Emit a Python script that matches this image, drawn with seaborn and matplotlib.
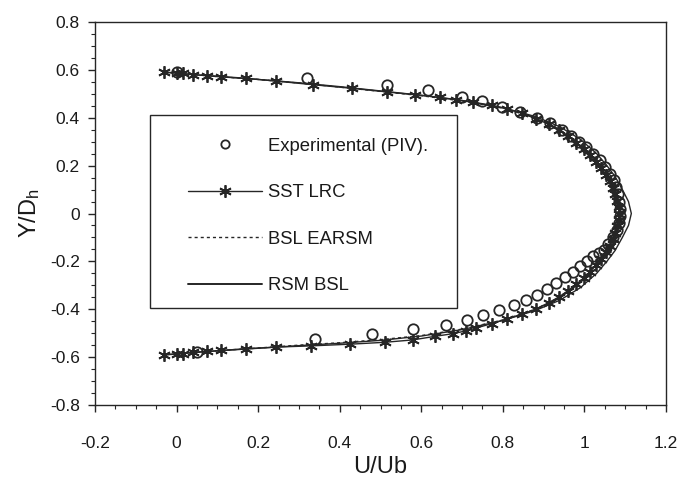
import matplotlib
matplotlib.use("Agg")
import matplotlib.pyplot as plt
import seaborn as sns
import pandas as pd
from matplotlib.ticker import MultipleLocator
from matplotlib.patches import Rectangle
from matplotlib.lines import Line2D

# ---------------- data ----------------
exp_x = [0.0, 0.32, 0.515, 0.616, 0.70, 0.75, 0.797, 0.842, 0.883, 0.915, 0.944,
         0.966, 0.986, 1.005, 1.022, 1.038, 1.05, 1.062, 1.072, 1.078, 1.082,
         1.085, 1.087, 1.087, 1.085, 1.08, 1.07, 1.058, 1.048, 1.036, 1.021,
         1.006, 0.99, 0.972, 0.952, 0.93, 0.908, 0.883, 0.857, 0.827, 0.79,
         0.752, 0.712, 0.66, 0.58, 0.48, 0.34, 0.05]
exp_y = [0.59, 0.565, 0.536, 0.515, 0.487, 0.468, 0.446, 0.424, 0.399, 0.376, 0.35,
         0.325, 0.30, 0.277, 0.25, 0.223, 0.195, 0.167, 0.138, 0.11, 0.08,
         0.05, 0.02, -0.01, -0.04, -0.07, -0.10, -0.128, -0.152, -0.166, -0.178,
         -0.198, -0.22, -0.243, -0.266, -0.29, -0.316, -0.34, -0.362, -0.383, -0.405,
         -0.425, -0.445, -0.465, -0.482, -0.503, -0.524, -0.578]

sst_x = [-0.03, 0.0, 0.015, 0.04, 0.075, 0.11, 0.17, 0.245, 0.335, 0.43, 0.515,
         0.585, 0.645, 0.685, 0.727, 0.773, 0.81, 0.848, 0.882, 0.912, 0.938,
         0.96, 0.98, 0.998, 1.014, 1.028, 1.041, 1.052, 1.062, 1.07, 1.076,
         1.081, 1.084, 1.085, 1.084, 1.081, 1.076, 1.07, 1.062, 1.052, 1.041,
         1.028, 1.014, 0.998, 0.98, 0.96, 0.938, 0.912, 0.882, 0.848, 0.81,
         0.773, 0.735, 0.71, 0.678, 0.634, 0.58, 0.511, 0.425, 0.33, 0.245,
         0.17, 0.11, 0.075, 0.04, 0.015, 0.0, -0.03]
sst_y = [0.59, 0.588, 0.585, 0.58, 0.576, 0.572, 0.565, 0.553, 0.538, 0.523, 0.508,
         0.496, 0.485, 0.476, 0.465, 0.452, 0.437, 0.418, 0.396, 0.373, 0.348,
         0.322, 0.296, 0.27, 0.243, 0.216, 0.189, 0.162, 0.135, 0.108, 0.081,
         0.054, 0.027, 0.0, -0.027, -0.054, -0.081, -0.108, -0.135, -0.162, -0.189,
         -0.216, -0.243, -0.27, -0.296, -0.322, -0.348, -0.373, -0.398, -0.42, -0.44,
         -0.46, -0.478, -0.49, -0.502, -0.513, -0.528, -0.538, -0.546, -0.553, -0.558,
         -0.565, -0.572, -0.576, -0.58, -0.585, -0.588, -0.59]

bsl_x = [-0.03, 0.0, 0.1, 0.2, 0.3, 0.4, 0.5, 0.6, 0.7, 0.8, 0.88, 0.94, 0.99,
         1.03, 1.06, 1.08, 1.09, 1.093, 1.09, 1.08, 1.06, 1.03, 0.99, 0.94,
         0.88, 0.8, 0.7, 0.6, 0.5, 0.4, 0.3, 0.2, 0.1, 0.0, -0.03]
bsl_y = [0.59, 0.587, 0.572, 0.56, 0.545, 0.528, 0.51, 0.492, 0.47, 0.44, 0.40,
         0.35, 0.29, 0.22, 0.15, 0.08, 0.03, 0.0, -0.03, -0.08, -0.15, -0.22,
         -0.29, -0.35, -0.40, -0.445, -0.483, -0.51, -0.527, -0.54, -0.55,
         -0.562, -0.573, -0.587, -0.59]

rsm_x = [-0.03, 0.0, 0.1, 0.2, 0.3, 0.4, 0.5, 0.6, 0.7, 0.8, 0.88, 0.94, 0.99,
         1.03, 1.055, 1.075, 1.093, 1.108, 1.115, 1.108, 1.093, 1.075, 1.055,
         1.03, 0.99, 0.94, 0.88, 0.8, 0.7, 0.6, 0.5, 0.4, 0.3, 0.2, 0.1, 0.0, -0.03]
rsm_y = [0.59, 0.586, 0.572, 0.56, 0.546, 0.53, 0.512, 0.494, 0.472, 0.442, 0.405,
         0.362, 0.31, 0.25, 0.2, 0.155, 0.10, 0.05, 0.0, -0.05, -0.10, -0.155,
         -0.2, -0.25, -0.31, -0.362, -0.405, -0.447, -0.485, -0.512, -0.53,
         -0.542, -0.552, -0.563, -0.574, -0.586, -0.59]

labels = ["Experimental (PIV).", "SST LRC", "BSL EARSM", "RSM BSL"]
x_ticks = [-0.2, 0, 0.2, 0.4, 0.6, 0.8, 1, 1.2]
y_ticks = [-0.8, -0.6, -0.4, -0.2, 0, 0.2, 0.4, 0.6, 0.8]

# ---------------- style ----------------
sns.set_style("ticks")
plt.rcParams["font.family"] = ["Liberation Sans", "DejaVu Sans"]
plt.rcParams["mathtext.fontset"] = "custom"
plt.rcParams["mathtext.rm"] = "Liberation Sans"
plt.rcParams["mathtext.it"] = "Liberation Sans:italic"

ink = "#262626"

fig = plt.figure(figsize=(6.88, 4.88), dpi=100)
ax = fig.add_axes([95 / 688, 1 - 405 / 488, 571 / 688, 383 / 488])

df_rsm = pd.DataFrame({"x": rsm_x, "y": rsm_y})
df_bsl = pd.DataFrame({"x": bsl_x, "y": bsl_y})
df_sst = pd.DataFrame({"x": sst_x, "y": sst_y})
df_exp = pd.DataFrame({"x": exp_x, "y": exp_y})

sns.lineplot(data=df_rsm, x="x", y="y", sort=False, estimator=None, ax=ax,
             color=ink, lw=1.0)
sns.lineplot(data=df_bsl, x="x", y="y", sort=False, estimator=None, ax=ax,
             color=ink, lw=1.0, linestyle=(0, (2.2, 2.2)))
sns.lineplot(data=df_sst, x="x", y="y", sort=False, estimator=None, ax=ax,
             color=ink, lw=1.0, marker=(6, 2, 0), markersize=9,
             markeredgecolor=ink, markeredgewidth=1.3)
sns.lineplot(data=df_exp, x="x", y="y", sort=False, estimator=None, ax=ax,
             color=ink, linestyle="", marker="o", markersize=7.5,
             markerfacecolor="none", markeredgecolor=ink, markeredgewidth=1.3)

ax.set_xlim(-0.2, 1.2)
ax.set_ylim(-0.8, 0.8)
ax.set_xticks(x_ticks)
ax.set_yticks(y_ticks)
ax.set_xticklabels([f"{v:g}" for v in x_ticks])
ax.set_yticklabels([f"{v:g}" for v in y_ticks])
ax.xaxis.set_minor_locator(MultipleLocator(0.05))
ax.yaxis.set_minor_locator(MultipleLocator(0.05))
ax.tick_params(axis="both", which="major", direction="out", length=5, width=1,
               color=ink, labelsize=12.5, labelcolor="#1a1a1a")
ax.tick_params(axis="both", which="minor", direction="out", length=3, width=0.8,
               color=ink)
ax.tick_params(axis="x", which="major", pad=17)
ax.tick_params(axis="y", which="major", pad=6)

for s in ax.spines.values():
    s.set_visible(True)
    s.set_color(ink)
    s.set_linewidth(1.0)

ax.set_xlabel("U/Ub", fontsize=17, color="#1a1a1a", labelpad=4)
ax.set_ylabel(r"Y/D$_\mathregular{h}$", fontsize=17, color="#1a1a1a", labelpad=6)

# legend: frame drawn as rectangle, entries placed inside
ax.add_patch(Rectangle((0.096, 0.254), 0.538, 0.503, transform=ax.transAxes,
                       fill=False, ec=ink, lw=1.0, zorder=5))
handles = [
    Line2D([], [], linestyle="", marker="o", markersize=6, markerfacecolor="none",
           markeredgecolor=ink, markeredgewidth=1.3),
    Line2D([], [], color=ink, lw=1.0, marker=(6, 2, 0), markersize=9,
           markeredgecolor=ink, markeredgewidth=1.3),
    Line2D([], [], color=ink, lw=1.0, linestyle=(0, (2.2, 2.2))),
    Line2D([], [], color=ink, lw=1.4),
]
leg = ax.legend(handles, labels, loc="upper left", bbox_to_anchor=(0.163, 0.698),
                frameon=False, borderpad=0, borderaxespad=0, fontsize=13.3,
                labelspacing=1.6, handlelength=4.0, handletextpad=0.3,
                numpoints=1)
for t in leg.get_texts():
    t.set_color("#1a1a1a")

fig.savefig("out.png", dpi=100, facecolor="white")
